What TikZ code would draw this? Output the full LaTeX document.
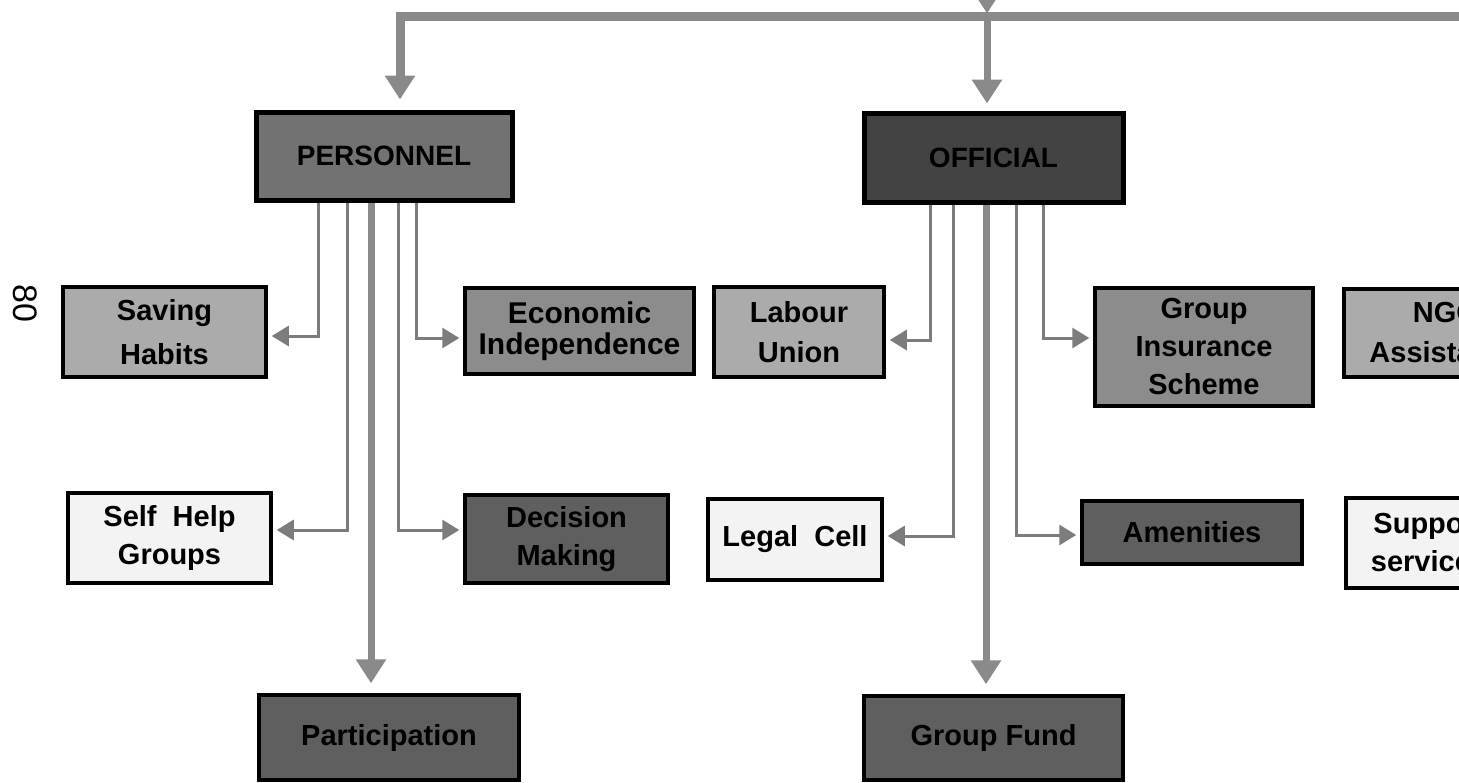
\documentclass[tikz,border=0pt]{standalone}
\usepackage{fontspec}
\setmainfont{Liberation Sans}
\usetikzlibrary{arrows.meta}
\definecolor{cPers}{HTML}{727272}
\definecolor{cOff}{HTML}{434343}
\definecolor{cLight}{HTML}{ABABAB}
\definecolor{cMid}{HTML}{8C8C8C}
\definecolor{cDark}{HTML}{5F5F5F}
\definecolor{cWhite}{HTML}{F3F3F3}
\definecolor{cLine}{HTML}{7C7C7C}
\definecolor{cThick}{HTML}{8A8A8A}
\newcommand{\boxfont}[1]{\fontsize{29}{#1}\selectfont\bfseries}
\begin{document}
\begin{tikzpicture}[x=1pt,y=-1pt,
  box/.style={draw=black, line width=3.5pt, inner sep=0pt, align=center, font=\boxfont{38}, text=black},
  headbox/.style={box, line width=5pt, font=\fontsize{28}{34}\selectfont\bfseries},
  thinc/.style={draw=cLine, line width=3pt, -{Triangle[width=20pt,length=17pt,fill=cLine]}, shorten >=4pt},
  thickc/.style={draw=cThick, line width=7pt},
  thicka/.style={thickc, -{Triangle[width=29pt,length=24pt,fill=cThick]}}
]
\path[use as bounding box] (0,0) rectangle (1459,782);
\clip (0,0) rectangle (1459,782);
\fill[white] (0,0) rectangle (1459,782);

% page number
\node[font=\fontsize{34}{34}\selectfont, rotate=-90] (pg) at (25,303) {80};

% head boxes
\node[headbox, fill=cPers, minimum width=256pt, minimum height=88pt] (pers) at (384,156) {PERSONNEL};
\node[headbox, fill=cOff, minimum width=259pt, minimum height=89pt] (off) at (993.5,157.5) {OFFICIAL};

% first row
\node[box, fill=cLight, minimum width=203pt, minimum height=90pt, font=\boxfont{44}] (sav) at (164.5,332) {Saving\\Habits};
\node[box, fill=cMid, minimum width=229pt, minimum height=86pt, font=\fontsize{30}{31}\selectfont\bfseries] (econ) at (579.5,331) {Economic\\Independence};
\node[box, fill=cLight, minimum width=170pt, minimum height=90pt, font=\boxfont{40}] (lab) at (799,332) {Labour\\Union};
\node[box, fill=cMid, minimum width=218pt, minimum height=118pt] (gins) at (1204,347) {Group\\Insurance\\Scheme};
\node[box, fill=cLight, minimum width=204pt, minimum height=88pt, font=\boxfont{40}] (ngo) at (1446,333) {NGO\\Assistance};

% second row
\node[box, fill=cWhite, minimum width=203pt, minimum height=90pt] (self) at (169.5,538) {Self\ \ Help\\Groups};
\node[box, fill=cDark, minimum width=203pt, minimum height=88pt] (dec) at (566.5,539) {Decision\\Making};
\node[box, fill=cWhite, minimum width=166pt, minimum height=90pt] (legal2) at (1429,543) {Support\\services};
\node[box, fill=cWhite, minimum width=174pt, minimum height=81pt] (legal) at (795,539.5) {Legal\ \ Cell};
\node[box, fill=cDark, minimum width=220pt, minimum height=63pt] (amen) at (1192,532.5) {Amenities};

% bottom row
\node[box, fill=cDark, minimum width=260pt, minimum height=85pt] (part) at (389,737.5) {Participation};
\node[box, fill=cDark, minimum width=259pt, minimum height=84pt] (gfund) at (993.5,738) {Group Fund};

% bus at the top
\coordinate (src) at (987,-40);
\coordinate (busM) at (987,16.5);
\coordinate (busR) at (1490,16.5);
\draw[thicka, shorten >=3pt] (src) -- (busM);
\draw[thicka, line width=9pt, shorten >=10pt] (busR) -| ([xshift=16pt]pers.north);
\draw[thicka, shorten >=7pt] (busM) -- (off.north -| busM);

% personnel connectors
\draw[thinc] (pers.south -| 318,0) |- (sav.east |- 0,336);
\draw[thinc] (pers.south -| 416,0) |- (econ.west |- 0,338);
\draw[thinc] (pers.south -| 347,0) |- (self.east |- 0,530);
\draw[thinc] (pers.south -| 398,0) |- (dec.west |- 0,530);
\draw[thicka, shorten >=10pt] (pers.south -| 371,0) -- (part.north -| 371,0);

% official connectors
\draw[thinc] (off.south -| 930,0) |- (lab.east |- 0,340);
\draw[thinc] (off.south -| 1043,0) |- (gins.west |- 0,338);
\draw[thinc] (off.south -| 953,0) |- (legal.east |- 0,536);
\draw[thinc] (off.south -| 1016,0) |- (amen.west |- 0,535);
\draw[thicka, shorten >=10pt] (off.south -| 986,0) -- (gfund.north -| 986,0);
\end{tikzpicture}
\end{document}
